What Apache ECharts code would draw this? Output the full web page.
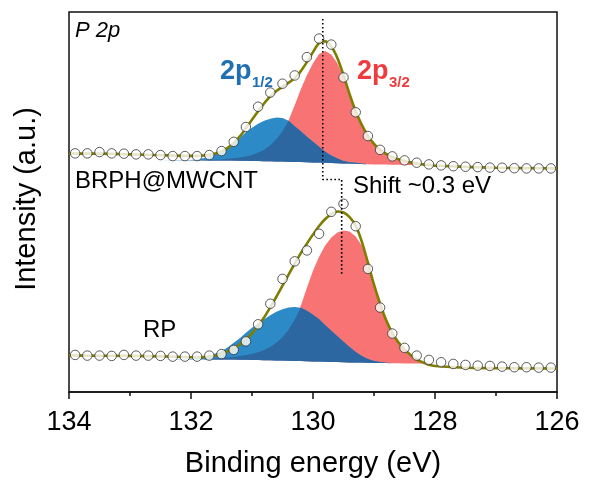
<!DOCTYPE html>
<html>
<head>
<meta charset="utf-8">
<script src="https://cdn.jsdelivr.net/npm/echarts@6/dist/echarts.min.js"></script>
<style>
html,body{margin:0;padding:0;background:#fff;}
#c{width:595px;height:483px;}
</style>
</head>
<body>
<div id="c"></div>
<script>
// ---- measured data points (binding energy, eV) ----
var dataE = [133.9,133.7,133.5,133.3,133.1,132.9,132.7,132.5,132.3,132.1,131.9,131.7,131.5,131.3,131.1,130.9,130.7,130.5,130.3,130.1,129.9,129.7,129.5,129.3,129.1,128.9,128.7,128.5,128.3,128.1,127.9,127.7,127.5,127.3,127.1,126.9,126.7,126.5,126.3,126.1];
var topData = [238,238,239.3,238,237.7,237,237,236.3,235.3,235.3,235.3,236.3,240.3,249.5,264.3,284.5,298.7,307.5,315.7,334,352.5,346.5,313.7,279,255.3,241.5,235,231,228.7,227,226,225.2,224.7,224.3,223.8,223.7,223.2,223,223,223];
var botData = [37,36.3,36.3,36,37,36.3,36.3,36,35.3,35.3,35.3,36.3,37.8,42,50.5,67.5,88,112.8,130.3,141.2,157.8,179.7,187.7,165.3,122.8,84.2,58.3,44,36.3,32,29.7,28,27,26.3,26,25.3,24.7,24.7,24.3,24.3];

// ---- fitted curves (sampled) ----
var fitE = [134.0,133.5,133.0,132.5,132.0,131.9,131.8,131.7,131.6,131.5,131.4,131.3,131.2,131.1,131.0,130.9,130.8,130.7,130.6,130.5,130.4,130.3,130.2,130.1,130.0,129.9,129.8,129.7,129.6,129.5,129.4,129.3,129.2,129.1,129.0,128.9,128.8,128.7,128.6,128.5,128.4,128.3,128.2,128.1,128.0,127.5,127.0,126.5,126.0];

// BRPH@MWCNT (upper spectrum)
var topEnvelope = [237.7,237.7,237,236.2,235.5,235.5,235.8,236.5,237.8,240,243.5,248.5,255,263,271.5,280,288,295,300.2,304.5,308.5,313,320,329,339,348,349.7,344.5,333,316,297,280,266.5,255.5,247.5,241.5,237.5,234.5,232.2,230.5,229,228,227,226.4,225.8,224.5,223.7,223.3,223];
var topBase = [231,231,231,231,231,231,231,231,231,231,230.9,230.8,230.7,230.6,230.5,230.4,230.2,230.1,229.9,229.8,229.6,229.5,229.3,229.2,229,228.8,228.6,228.4,228.2,228,227.8,227.6,227.4,227.2,227,226.9,226.8,226.7,226.6,226.5,226.5,226.5,226.5,226.5,226.5,226.5,226.5,226.5,226.5];
var top2p32 = [0,0,0,0,0,0.1,0.2,0.4,0.7,1,1.7,2.4,3.3,4.4,6,8.1,11.3,15.9,22.1,30.2,41.4,56.5,72.7,86.8,99,108.2,111.4,108.1,99.8,86.5,71.2,52.4,37.6,27.3,20,14.1,10.2,7.3,5.2,3.7,2.5,1.5,0.7,0.3,0,0,0,0,0];
var top2p12 = [0,0,0,0,0.5,1.2,2.2,3.7,6,9,13.1,17.7,22.8,28.4,33,37.1,40.3,42.4,43.8,43.4,40.9,35.5,30.7,25.3,20.5,15.7,10.9,7.6,4.8,2.5,1.4,1,0.4,0,0,0,0,0,0,0,0,0,0,0,0,0,0,0,0];

// RP (lower spectrum)
var botEnvelope = [36.5,36.2,36,35.5,34.7,34.5,34.8,35.5,36.5,38,40.5,43.5,47.5,52.5,58.5,66,74.5,84.5,95,106,117,128,138.5,148,157,165.5,172.5,177.5,180,179,174.5,166,150,129,107,88,71.5,59,49.5,42.5,37,32.5,29.5,27.2,26,24.2,23.8,23.6,23.5];
var botBase = [32.5,32.5,32.5,32.5,32.5,32.5,32.5,32.5,32.5,32.5,32.4,32.3,32.2,32.1,32,31.9,31.7,31.6,31.4,31.3,31.1,31,30.8,30.7,30.5,30.3,30.2,30,29.8,29.7,29.5,29.4,29.3,29.1,29,28.9,28.8,28.7,28.6,28.5,28.5,28.5,28.5,28.5,28.5,28.5,28.5,28.5,28.5];
var bot2p32 = [0,0,0,0,0,0,0,0.6,0.9,1.5,2.1,2.7,3.6,4.7,6,7.8,10.3,13.4,17.6,23.2,30.9,41,55.2,73.3,90.5,104.7,115.8,124,129.2,131.3,130.5,125.6,116.7,100.9,78.5,58.1,41.7,30.3,20.9,13.5,8,4,1.5,0.2,0,0,0,0,0];
var bot2p12 = [0,0,0,0,0.5,1,2.5,4,6,8.5,12.1,16.7,21.3,26.9,32,36.6,40.8,44.9,48.6,51.2,53.1,53.7,53.2,50.3,46.5,42.2,36.3,31,25.7,20.3,15.5,10.6,6.7,3.9,2,1.1,0.4,0,0,0,0,0,0,0,0,0,0,0,0];

// peak-position guide (shift annotation)
var shiftE = [129.84,129.84,129.53,129.53];
var shiftV = [372,212,212,117];

// axis ticks
var xTicks = [126,128,130,132,134];

// ---- build ----
var FONT = '"Liberation Sans", Arial, Helvetica, sans-serif';
function pairs(E, V){ return E.map(function(e,i){ return [e, V[i]]; }); }
function minArr(a,b){ return a.map(function(v,i){ return Math.min(v,b[i]); }); }

var C_RED = '#F87474', C_BLUE = '#2C8AC6', C_OVER = '#2C67A2', C_ENV = '#7E7E00';

// filled peak component between background and background+component
function peakArea(E, base, comp, color, z){
  return {
    type:'custom', coordinateSystem:'cartesian2d', silent:true, z:z,
    data:[[E[0], base[0]]],
    renderItem:function(params, api){
      var up = [], down = [];
      for (var i = 0; i < E.length; i++){
        up.push(api.coord([E[i], base[i] + comp[i]]));
        down.push(api.coord([E[i], base[i]]));
      }
      return {type:'polygon', shape:{points: up.concat(down.reverse())}, style:{fill:color}};
    }
  };
}

var series = [
  peakArea(fitE, topBase, top2p32, C_RED, 1),
  peakArea(fitE, topBase, top2p12, C_BLUE, 2),
  peakArea(fitE, topBase, minArr(top2p32, top2p12), C_OVER, 3),
  peakArea(fitE, botBase, bot2p32, C_RED, 1),
  peakArea(fitE, botBase, bot2p12, C_BLUE, 2),
  peakArea(fitE, botBase, minArr(bot2p32, bot2p12), C_OVER, 3)
];

[topEnvelope, botEnvelope].forEach(function(env){
  series.push({type:'line', data:pairs(fitE, env), symbol:'none', smooth:0.3, silent:true,
    lineStyle:{color:C_ENV, width:2.6}, z:5});
});
[topData, botData].forEach(function(d){
  series.push({type:'scatter', data:pairs(dataE, d), symbol:'circle', symbolSize:9.5, silent:true,
    itemStyle:{color:'#fff', borderColor:'#333', borderWidth:1}, z:6});
});
series.push({type:'line', data:pairs(shiftE, shiftV), symbol:'none', silent:true,
  lineStyle:{color:'#000', width:1.6, type:[1.6,2.4]}, z:7});

function txt(t, x, y, size, opts){
  opts = opts || {};
  return {type:'text', x:x, y:y, silent:true, z:100,
    style:{text:t, fill:opts.color||'#000', fontSize:size, fontFamily:FONT,
      fontWeight:opts.weight||'normal', fontStyle:opts.style||'normal',
      align:'left', verticalAlign:'middle'}};
}

var chart = echarts.init(document.getElementById('c'), null, {renderer:'canvas'});
chart.setOption({
  animation:false,
  backgroundColor:'#fff',
  grid:{left:69, right:38, top:12, bottom:91, show:true, borderColor:'#111', borderWidth:1.5, backgroundColor:'transparent'},
  xAxis:{
    type:'value', min:126, max:134, interval:2, inverse:true,
    name:'Binding energy (eV)', nameLocation:'middle', nameGap:57,
    nameTextStyle:{fontSize:29, fontFamily:FONT, color:'#000'},
    axisLine:{show:true, lineStyle:{color:'#111', width:1.5}},
    axisTick:{show:true, inside:false, length:7, lineStyle:{color:'#111', width:1.5}},
    minorTick:{show:true, splitNumber:2, length:4, lineStyle:{color:'#111', width:1.5}},
    axisLabel:{fontSize:27, fontFamily:FONT, color:'#000', margin:17,
      formatter:function(v){ return xTicks.indexOf(v) >= 0 ? String(v) : ''; }},
    splitLine:{show:false}
  },
  yAxis:{
    type:'value', min:0, max:379,
    name:'Intensity (a.u.)', nameLocation:'middle', nameGap:28,
    nameTextStyle:{fontSize:29, fontFamily:FONT, color:'#000', padding:[0,0,0,6]},
    axisLine:{show:false}, axisTick:{show:false}, axisLabel:{show:false}, splitLine:{show:false}
  },
  graphic:[
    txt('P 2p', 75, 31, 22, {style:'italic'}),
    txt('2p', 220, 72, 27, {weight:'bold', color:'#1F6FB3'}),
    txt('1/2', 252, 83, 15, {weight:'bold', color:'#1F6FB3'}),
    txt('2p', 357, 72, 27, {weight:'bold', color:'#EF3B3E'}),
    txt('3/2', 389, 83, 15, {weight:'bold', color:'#EF3B3E'}),
    txt('BRPH@MWCNT', 75, 181, 24),
    txt('Shift ~0.3 eV', 353, 186.5, 24),
    txt('RP', 143, 330, 24)
  ],
  series:series
});
</script>
</body>
</html>
